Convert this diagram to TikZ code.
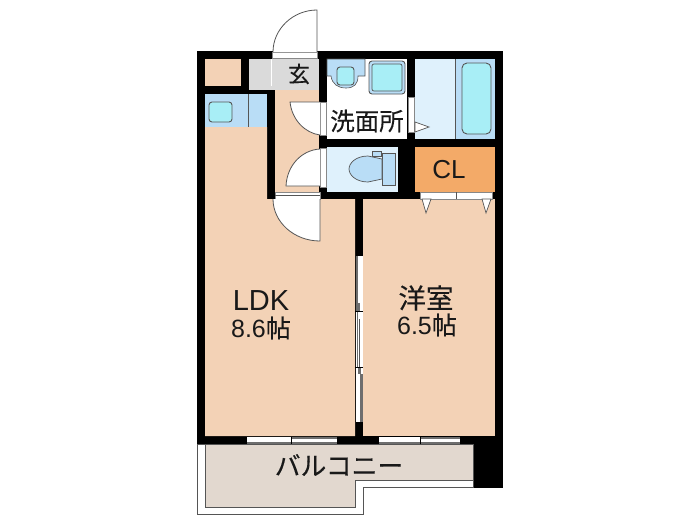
\documentclass[tikz,border=0pt]{standalone}
\usepackage{fontspec}
\setmainfont[FakeBold=0.25]{Noto Sans CJK JP}
\newfontfamily\latinfont{Liberation Sans}
\definecolor{peach}{HTML}{F3D2B6}
\definecolor{wetblue}{HTML}{B9DDF6}
\definecolor{paleblue}{HTML}{DFF1FC}
\definecolor{fixture}{HTML}{A8EEF6}
\definecolor{entry}{HTML}{DADADA}
\definecolor{closet}{HTML}{F3AA68}
\definecolor{balc}{HTML}{E2D8CF}
\definecolor{ink}{HTML}{555555}
\tikzset{
  x=1pt,y=-1pt,
  wall/.style={fill=black,draw=none},
  fixt/.style={draw=ink,line width=0.9pt,fill=fixture,rounded corners=3pt},
  opening/.style={fill=white,draw=ink!70,line width=0.5pt},
  swing/.style={fill=white,draw=ink,line width=0.8pt},
  sash/.style={fill=ink!85,draw=none},
  label/.style={inner sep=0pt,text=black!90},
}
\begin{document}
\begin{tikzpicture}
\useasboundingbox (0,0) rectangle (700,525);
\fill[white] (0,0) rectangle (700,525);
% walls as a big black mass
\fill[wall] (197,51) rectangle (503,444);
\fill[wall] (473,444) rectangle (503,488);
% balcony
\draw[ink,line width=1pt,fill=white] (197,444) -- (197,514) -- (363,514) -- (363,487) -- (473,487) -- (473,444) -- cycle;
\draw[ink,line width=1pt,fill=balc] (205,444) -- (205,507) -- (355,507) -- (355,480) -- (473,480) -- (473,444) -- cycle;
% rooms
\fill[peach] (205,59) rectangle (241,86);
\fill[entry] (249,59) rectangle (319,90);
\draw[white,line width=0.8pt] (271,59) -- (271,86);
\fill[peach] (275,90) rectangle (319,192);
\fill[wetblue] (205,94) rectangle (267,127);
\draw[ink,line width=0.8pt] (248,94) -- (248,127);
\draw[fixt] (209,102) rectangle (232,122);
\fill[peach] (205,127) -- (267,127) -- (267,199) -- (355,199) -- (355,436) -- (205,436) -- cycle;
\fill[peach] (363,199) rectangle (495,436);
% washroom
\fill[white] (327,59) rectangle (407,139);
\draw[ink,line width=0.6pt,fill=wetblue] (327,59) -- (365,59) -- (365,76) -- (358,76) .. controls (358,84) and (354,88) .. (346,88) .. controls (338,88) and (332,84) .. (331,76) -- (327,76) -- cycle;
\draw[fixt] (337,67) rectangle (354,85);
\draw[ink,line width=0.9pt,fill=wetblue,rounded corners=3pt] (369,61) rectangle (405,94);
\draw[ink,line width=0.7pt,fill=fixture,rounded corners=2pt] (372,64) rectangle (402,91);
% bath
\fill[paleblue] (415,59) rectangle (455,139);
\fill[wetblue] (455,59) rectangle (495,139);
\draw[ink,line width=0.6pt] (455,59) -- (455,139);
\draw[fixt,rounded corners=5pt] (462,63) rectangle (491,134);
% toilet
\fill[paleblue] (327,147) rectangle (398,192);
\draw[ink,line width=0.7pt,fill=wetblue] (372,151) rectangle (381,156);
\draw[ink,line width=0.7pt,fill=wetblue] (382,153) rectangle (395,185);
\draw[ink,line width=0.7pt,fill=wetblue] (382,159) -- (368,156) .. controls (356,156) and (349,163) .. (349,169) .. controls (349,175) and (356,182) .. (368,182) -- (382,179) -- cycle;
% closet
\fill[closet] (415,147) rectangle (495,192);
% entrance door
\fill[opening] (272,52) rectangle (317,58);
\draw[swing] (317,52) -- (317,10) .. controls (293,10) and (273,29) .. (273,52);
% door hall to washroom
\fill[opening] (320,102) rectangle (326,135);
\draw[swing] (320,102) -- (290,102) .. controls (292,120) and (305,133) .. (320,135);
% door hall to toilet
\fill[opening] (320,148) rectangle (326,187);
\draw[swing] (320,186) -- (286,186) .. controls (287,165) and (302,150) .. (320,149);
% washroom to bath
\fill[opening] (408,97) rectangle (414,132);
\draw[ink,line width=0.7pt,fill=white] (415,122) -- (429,127) -- (415,132) -- cycle;
% door to LDK
\fill[opening] (275,192) rectangle (320,199);
\draw[ink,line width=0.4pt] (275,195.5) -- (320,195.5);
\draw[swing] (320,199) -- (320,241) .. controls (294,241) and (273,222) .. (273,199);
% closet doors
\fill[opening] (420,192) rectangle (492,199);
\draw[ink,line width=0.6pt] (456,192) -- (456,199);
\draw[ink,line width=0.7pt,fill=white] (422,199) -- (431,199) -- (426,213) -- cycle;
\draw[ink,line width=0.7pt,fill=white] (482,199) -- (491,199) -- (486,213) -- cycle;
% sliding partition
\fill[white] (356,256) rectangle (362.5,422);
\fill[sash] (356,256) rectangle (358,311);
\fill[sash] (357,303) rectangle (360,311);
\fill[sash] (356.5,311) rectangle (358,367);
\draw[ink,line width=1pt] (359,319) -- (359,367);
\fill[sash] (358,367) rectangle (361,374);
\fill[sash] (360,374) rectangle (362.5,422);
\draw[black,line width=1pt] (355,311) -- (363,311);
\draw[black,line width=1pt] (355,367) -- (363,367);
% balcony windows
\fill[white] (247,437) rectangle (337,444);
\fill[ink!85] (247,441.5) rectangle (337,444);
\fill[ink!85] (291,437) rectangle (337,439);
\draw[black,line width=0.9pt] (291,437) -- (291,444);
\fill[white] (379,437) rectangle (460,444);
\fill[ink!85] (379,441.5) rectangle (460,444);
\fill[ink!85] (420,437) rectangle (460,439);
\draw[black,line width=0.9pt] (420,437) -- (420,444);
% labels
\node[label,font=\fontsize{22}{22}\selectfont] (genkan) at (299,74) {玄};
\node[label,font=\fontsize{24.5}{24.5}\selectfont] (senmen) at (367,121) {洗面所};
\node[label,font=\latinfont\fontsize{26}{26}\selectfont] (cl) at (449,170) {CL};
\node[label,font=\latinfont\fontsize{29}{29}\selectfont] (ldk) at (261,301) {LDK};
\node[label,font=\fontsize{25}{25}\selectfont] (ldkarea) at (261,328) {{\latinfont 8.6}帖};
\node[label,font=\fontsize{27.5}{27.5}\selectfont] (yoshitsu) at (426,298) {洋室};
\node[label,font=\fontsize{25}{25}\selectfont] (yoarea) at (427,325) {{\latinfont 6.5}帖};
\node[label,font=\fontsize{25.8}{25.8}\selectfont] (balcony) at (339,465) {バルコニー};
\end{tikzpicture}
\end{document}
